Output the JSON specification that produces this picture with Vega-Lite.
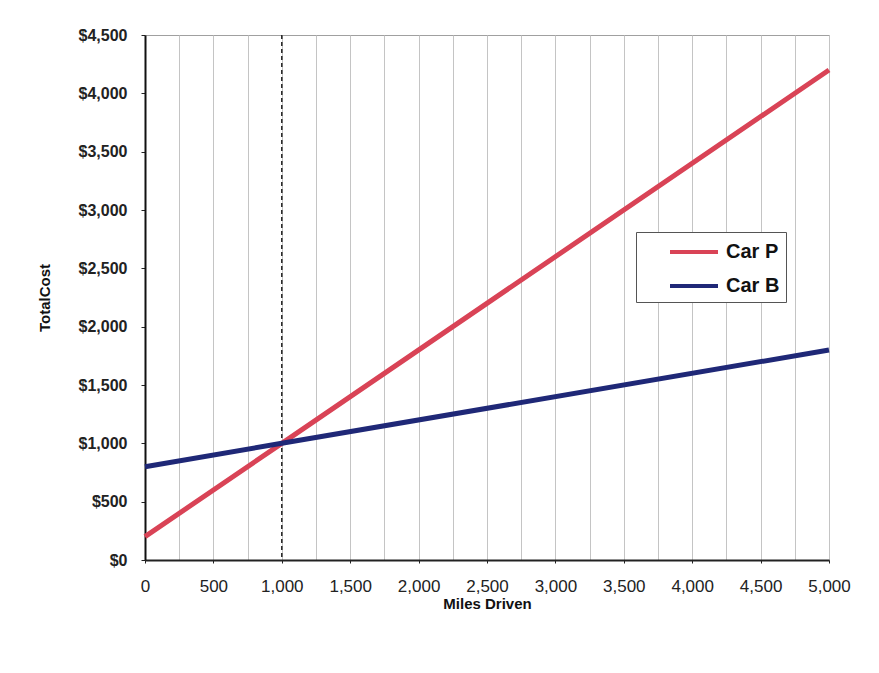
{
  "$schema": "https://vega.github.io/schema/vega-lite/v6.json",
  "width": 684,
  "height": 525,
  "autosize": {"type": "none"},
  "padding": {"left": 145, "top": 35, "right": 50, "bottom": 113},
  "background": "white",
  "config": {
    "font": "Liberation Sans",
    "view": {"stroke": "#a0a0a0", "strokeWidth": 1}
  },
  "datasets": {
    "costs": [
      {"car": "Car P", "miles": 0, "cost": 200},
      {"car": "Car P", "miles": 1000, "cost": 1000},
      {"car": "Car P", "miles": 5000, "cost": 4200},
      {"car": "Car B", "miles": 0, "cost": 800},
      {"car": "Car B", "miles": 1000, "cost": 1000},
      {"car": "Car B", "miles": 5000, "cost": 1800}
    ],
    "breakeven": [{"miles": 1000}]
  },
  "resolve": {"axis": {"x": "independent"}},
  "layer": [
    {
      "data": {"name": "breakeven"},
      "mark": {"type": "rule", "color": "#222", "strokeWidth": 1.5, "strokeDash": [4, 3]},
      "encoding": {
        "x": {
          "field": "miles",
          "type": "quantitative",
          "scale": {"domain": [0, 5000], "nice": false},
          "axis": {
            "orient": "top",
            "title": null,
            "values": [0, 250, 500, 750, 1000, 1250, 1500, 1750, 2000, 2250, 2500, 2750, 3000, 3250, 3500, 3750, 4000, 4250, 4500, 4750, 5000],
            "labels": false,
            "ticks": false,
            "domain": false,
            "grid": true,
            "gridColor": "#c4c4c4",
            "gridWidth": 1
          }
        }
      }
    },
    {
      "data": {"name": "costs"},
      "mark": {"type": "line", "strokeWidth": 5},
      "encoding": {
        "x": {
          "field": "miles",
          "type": "quantitative",
          "scale": {"domain": [0, 5000], "nice": false},
          "axis": {
            "title": "Miles Driven",
            "titleFontSize": 15,
            "titleFontWeight": "bold",
            "titleColor": "#111",
            "titlePadding": 2,
            "values": [0, 500, 1000, 1500, 2000, 2500, 3000, 3500, 4000, 4500, 5000],
            "format": ",.0f",
            "labelFlush": false,
            "labelOverlap": false,
            "labelFontSize": 17,
            "labelColor": "#222",
            "labelPadding": 15,
            "tickSize": 3,
            "tickColor": "#222",
            "grid": false,
            "domainColor": "#222",
            "domainWidth": 2
          }
        },
        "y": {
          "field": "cost",
          "type": "quantitative",
          "scale": {"domain": [0, 4500], "nice": false},
          "axis": {
            "title": "TotalCost",
            "titleFontSize": 15,
            "titleFontWeight": "bold",
            "titleColor": "#111",
            "titlePadding": 26,
            "values": [0, 500, 1000, 1500, 2000, 2500, 3000, 3500, 4000, 4500],
            "format": "$,.0f",
            "labelFontSize": 16,
            "labelFontWeight": "bold",
            "labelColor": "#222",
            "labelPadding": 14,
            "tickSize": 4,
            "tickColor": "#222",
            "grid": false,
            "domainColor": "#111",
            "domainWidth": 2
          }
        },
        "color": {
          "field": "car",
          "type": "nominal",
          "scale": {"domain": ["Car P", "Car B"], "range": ["#d94356", "#1f2877"]},
          "legend": {
            "title": null,
            "orient": "none",
            "legendX": 491,
            "legendY": 197,
            "symbolType": "M-2,0H2",
            "symbolSize": 576,
            "symbolStrokeWidth": 4,
            "symbolOffset": 38,
            "labelFontSize": 20,
            "labelFontWeight": "bold",
            "labelColor": "#111",
            "labelOffset": 18,
            "rowPadding": 10,
            "padding": 6,
            "strokeColor": "#555",
            "fillColor": "white"
          }
        }
      }
    }
  ]
}
